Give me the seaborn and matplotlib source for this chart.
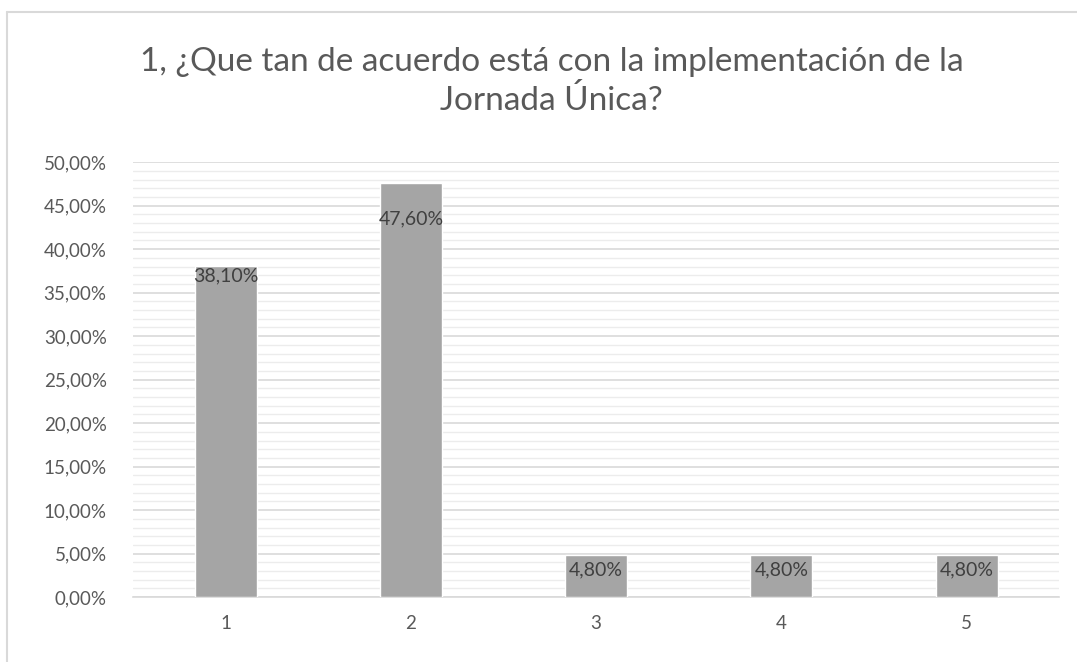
import numpy as np
import pandas as pd
import matplotlib
matplotlib.use("Agg")
import matplotlib.pyplot as plt
import seaborn as sns
from matplotlib.ticker import MultipleLocator, FuncFormatter

categories = ["1", "2", "3", "4", "5"]
values = [38.10, 47.60, 4.80, 4.80, 4.80]
title = "1, ¿Que tan de acuerdo está con la implementación de la\nJornada Única?"

df = pd.DataFrame({"cat": categories, "pct": values})

sns.set_style("white")
plt.rcParams["font.family"] = ["Lato", "DejaVu Sans"]

fig = plt.figure(figsize=(10.77, 6.62), dpi=100)
ax = fig.add_axes([0.1235, 0.098, 0.860, 0.657])

sns.barplot(data=df, x="cat", y="pct", color="#a5a5a5", width=0.335,
            saturation=1, ax=ax, zorder=3)

ax.set_ylim(0, 50)
ax.yaxis.set_major_locator(MultipleLocator(5))
ax.yaxis.set_minor_locator(MultipleLocator(1))
ax.yaxis.set_major_formatter(FuncFormatter(lambda v, p: f"{v:.2f}%".replace(".", ",")))
ax.grid(axis="y", which="major", color="#d9d9d9", linewidth=1.2, zorder=0)
ax.grid(axis="y", which="minor", color="#ececec", linewidth=1.0, zorder=0)
ax.set_axisbelow(True)
for s in ["top", "right", "left"]:
    ax.spines[s].set_visible(False)
ax.spines["bottom"].set_color("#d9d9d9")
ax.spines["bottom"].set_linewidth(1.2)
ax.tick_params(axis="both", which="both", length=0, labelsize=13.5,
               labelcolor="#595959")
ax.tick_params(axis="x", pad=13)
ax.tick_params(axis="y", pad=19)
ax.set_xlabel("")
ax.set_ylabel("")

# data labels near the top inside each bar (offsets in points)
label_offsets = [-1, -20, -4, -4, -4]
for i, (v, off) in enumerate(zip(values, label_offsets)):
    ax.annotate(f"{v:.2f}%".replace(".", ","), (i, v), xytext=(0, off),
                textcoords="offset points", ha="center", va="top",
                fontsize=14, color="#404040", zorder=5)

fig.text(0.512, 0.877, title, ha="center", va="center", fontsize=24,
         color="#595959", linespacing=1.35)

# chart frame (left and top edges)
fig.add_artist(plt.Line2D([0.0065, 0.0065], [0, 0.982], color="#d9d9d9",
                          linewidth=1.5, transform=fig.transFigure))
fig.add_artist(plt.Line2D([0.0065, 1], [0.982, 0.982], color="#d9d9d9",
                          linewidth=1.5, transform=fig.transFigure))

fig.savefig("out.png", dpi=100)
